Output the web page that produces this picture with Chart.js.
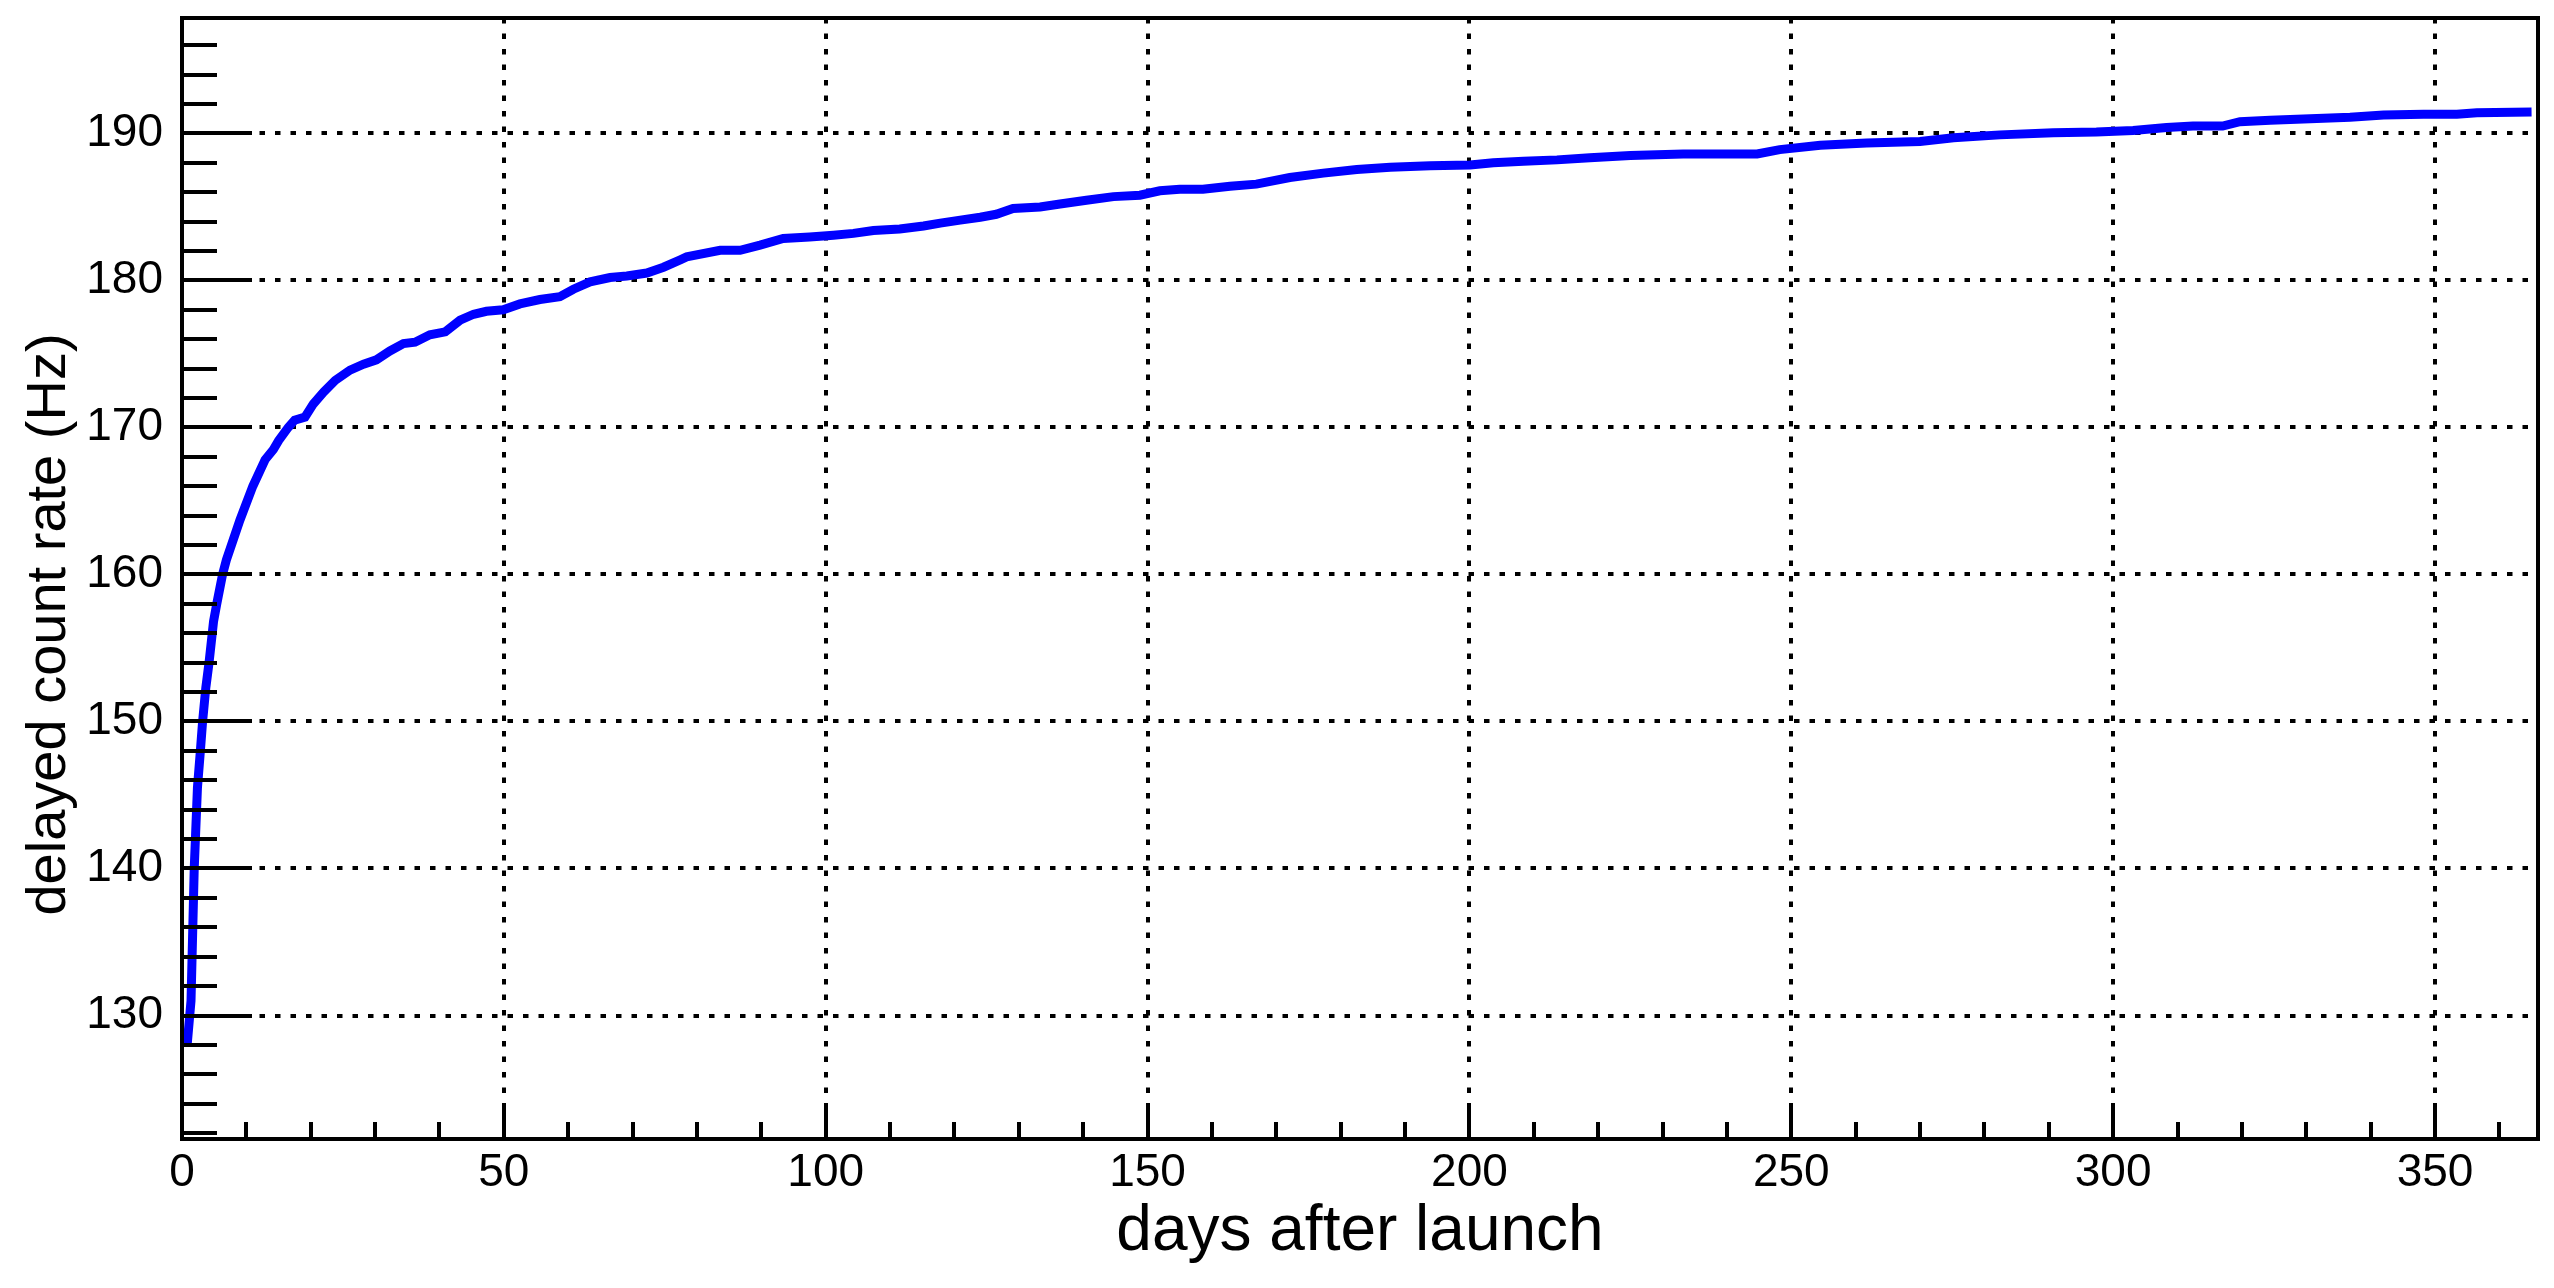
<!DOCTYPE html>
<html>
<head>
<meta charset="utf-8">
<script src="https://cdn.jsdelivr.net/npm/chart.js@4.4.1/dist/chart.umd.min.js"></script>
<style>
  html, body { margin: 0; padding: 0; background: #fff; }
  #wrap { width: 2554px; height: 1288px; position: relative; }
</style>
</head>
<body>
<div id="wrap"><canvas id="c"></canvas></div>
<script>
// days after launch and delayed count rate (Hz)
const days = [0.8, 1.4, 1.9, 2.4, 2.8, 3.2, 3.7, 4.2, 4.9, 5.4, 6.3, 6.9, 9, 11, 12.9, 14.2, 15, 16.5, 17.5, 19.1,
  20.4, 22, 23.8, 26.1, 28.2, 30.2, 32.3, 34.4, 36.2, 38.5, 40.9, 43.2, 45.3, 47.3, 49.9, 52.5, 55.6, 58.7, 60.8, 63.4,
  66.5, 69.1, 72.2, 74.8, 77.4, 78.4, 83.6, 86.7, 89.8, 93.4, 97.5, 101.2, 104.3, 107.4, 111.5, 115.2, 117.8, 120.9,
  124, 126.5, 129.1, 133.3, 136.4, 140.5, 144.7, 148.8, 151.9, 155, 158.6, 162.8, 166.9, 172.1, 177.3, 182.5, 187.7,
  193.9, 200.1, 203.7, 208.4, 213.6, 218.7, 225, 233.2, 244.7, 248.2, 254.5, 261.7, 270, 275.2, 282.4, 290.7, 297.4,
  303.1, 308.3, 312.4, 317, 319.7, 324.4, 330.6, 336.8, 342, 348.2, 353.4, 356.5, 365];
const rate = [128.0, 131, 140, 145.5, 147.7, 150, 152.3, 154, 156.8, 158, 160, 161, 163.7, 166, 167.8, 168.5, 169.1, 170, 170.5, 170.7,
  171.6, 172.4, 173.2, 173.9, 174.3, 174.6, 175.2, 175.7, 175.8, 176.3, 176.5, 177.3, 177.7, 177.9, 178.0, 178.4, 178.7, 178.9, 179.4, 179.9,
  180.2, 180.3, 180.5, 180.9, 181.4, 181.6, 182.05, 182.05, 182.4, 182.85, 182.95, 183.07, 183.2, 183.4, 183.5, 183.7, 183.9, 184.1,
  184.3, 184.5, 184.9, 185.0, 185.2, 185.45, 185.7, 185.8, 186.1, 186.2, 186.2, 186.4, 186.55, 187.0, 187.3, 187.55, 187.7,
  187.8, 187.85, 188.0, 188.1, 188.2, 188.35, 188.5, 188.6, 188.6, 188.9, 189.2, 189.35, 189.45, 189.7, 189.9, 190.05, 190.1,
  190.2, 190.4, 190.5, 190.5, 190.8, 190.9, 191.0, 191.1, 191.25, 191.3, 191.3, 191.4, 191.45];

const xMin = 0, xMax = 366;
const yMin = 121.6, yMax = 197.85;
const xMajor = 50, xMinor = 10;
const yMajor = 10, yMinor = 2;

const font = "'Liberation Sans', Arial, Helvetica, sans-serif";
const yTitle = 'delayed count rate (Hz)';

// ROOT style frame with inward tick marks, plus the y title (sits a bit below centre)
const frameTicks = {
  id: 'frameTicks',
  afterDraw(chart) {
    const { ctx, chartArea: a, scales: { x, y } } = chart;
    ctx.save();
    ctx.strokeStyle = '#000';
    ctx.lineWidth = 4;
    ctx.setLineDash([]);
    ctx.beginPath();
    for (let v = Math.ceil(yMin / yMinor) * yMinor; v <= yMax; v += yMinor) {
      const py = Math.round(y.getPixelForValue(v));
      const len = v % yMajor === 0 ? 70 : 35;
      ctx.moveTo(a.left, py);
      ctx.lineTo(a.left + len, py);
    }
    for (let d = xMin; d <= xMax; d += xMinor) {
      const px = Math.round(x.getPixelForValue(d));
      const len = d % xMajor === 0 ? 33 : 17;
      ctx.moveTo(px, a.bottom);
      ctx.lineTo(px, a.bottom - len);
    }
    ctx.stroke();
    ctx.strokeRect(a.left, a.top, a.right - a.left, a.bottom - a.top);

    ctx.translate(65, (a.top + a.bottom) / 2 + 46);
    ctx.rotate(-Math.PI / 2);
    ctx.fillStyle = '#000';
    ctx.font = '56px ' + font;
    ctx.textAlign = 'center';
    ctx.textBaseline = 'alphabetic';
    ctx.fillText(yTitle, 0, 0);
    ctx.restore();
  }
};

const points = days.map((d, i) => ({ x: d, y: rate[i] }));

new Chart(document.getElementById('c'), {
  type: 'line',
  data: {
    datasets: [{
      data: points,
      borderColor: '#0000ff',
      borderWidth: 9,
      borderCapStyle: 'butt',
      pointRadius: 0,
      tension: 0,
      fill: false
    }]
  },
  options: {
    responsive: true,
    maintainAspectRatio: false,
    animation: false,
    devicePixelRatio: 1,
    layout: { padding: { left: 0, top: 18, right: 16, bottom: 0 } },
    plugins: { legend: { display: false }, tooltip: { enabled: false } },
    scales: {
      x: {
        type: 'linear',
        min: xMin,
        max: xMax,
        afterFit: (s) => { s.height = 149; s.paddingLeft = 0; s.paddingRight = 0; },
        ticks: { stepSize: xMajor, includeBounds: false, padding: 7, color: '#000', font: { family: font, size: 46 } },
        grid: { color: '#000', lineWidth: 4, drawTicks: false },
        border: { display: false, dash: [5.5, 10] },
        title: { display: true, text: 'days after launch', color: '#000', font: { family: font, size: 64 }, padding: { top: 0, bottom: 17 } }
      },
      y: {
        type: 'linear',
        min: yMin,
        max: yMax,
        afterFit: (s) => { s.width = 182; s.paddingTop = 0; s.paddingBottom = 0; },
        ticks: { stepSize: yMajor, includeBounds: false, padding: 19, color: '#000', font: { family: font, size: 46 } },
        grid: { color: '#000', lineWidth: 4, drawTicks: false },
        border: { display: false, dash: [5.5, 10] },
        title: { display: false }
      }
    }
  },
  plugins: [frameTicks]
});
</script>
</body>
</html>
